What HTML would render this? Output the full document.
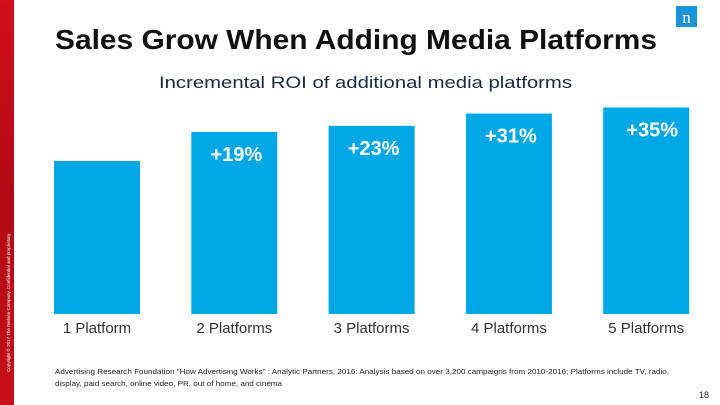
<!DOCTYPE html>
<html><head><meta charset="utf-8"><style>
html,body{margin:0;padding:0;background:#fff}
body{width:720px;height:405px;overflow:hidden;position:relative;font-family:"Liberation Sans",sans-serif}
svg text{font-family:"Liberation Sans",sans-serif}
</style></head><body>
<svg width="720" height="405" viewBox="0 0 720 405" xmlns="http://www.w3.org/2000/svg" style="position:absolute;left:0;top:0">
<defs><linearGradient id="rg" x1="0" y1="0" x2="0" y2="1"><stop offset="0" stop-color="#d0101c"/><stop offset="0.5" stop-color="#b00a14"/><stop offset="1" stop-color="#c8101a"/></linearGradient></defs>
<rect x="0" y="0" width="14" height="405" fill="url(#rg)"/>
<text transform="translate(10,372) rotate(-90)" font-size="4.5" fill="#fff">Copyright © 2017 The Nielsen Company. Confidential and proprietary.</text>
<rect x="676" y="6" width="21" height="21" fill="#1a94d6"/>
<text x="686.5" y="23" font-size="17" fill="#fff" text-anchor="middle" style="font-family:'Liberation Serif',serif">n</text>
<text x="55" y="49" font-size="27.5" font-weight="bold" fill="#111" textLength="602" lengthAdjust="spacingAndGlyphs">Sales Grow When Adding Media Platforms</text>
<text x="159" y="88" font-size="17" fill="#1a2a40" textLength="413" lengthAdjust="spacingAndGlyphs">Incremental ROI of additional   media platforms</text>
<g id="bars"></g>
<text x="55" y="374" font-size="7.5" fill="#222" textLength="614" lengthAdjust="spacingAndGlyphs">Advertising Research Foundation "How Advertising Works" : Analytic Partners, 2016: Analysis based on over 3,200 campaigns from 2010-2016; Platforms include TV, radio,</text>
<text x="55" y="386" font-size="7.5" fill="#222" textLength="227" lengthAdjust="spacingAndGlyphs">display, paid search, online video, PR, out of home, and cinema</text>
<text x="709" y="398" font-size="9" fill="#222" text-anchor="end">18</text>
</svg>
<script>
const categories = ["1 Platform","2 Platforms","3 Platforms","4 Platforms","5 Platforms"];
const values = [100,119,123,131,135];
const valueLabels = ["","+19%","+23%","+31%","+35%"];
const baseY = 314, pxPerUnit = 1.53, x0 = 54, step = 137.3, barW = 86;
const yScale = v => baseY - v * pxPerUnit;
const xScale = i => x0 + i * step;
const g = document.getElementById('bars');
const NS = "http://www.w3.org/2000/svg";
values.forEach((v, i) => {
  const r = document.createElementNS(NS, 'rect');
  
  
  r.setAttribute('x', xScale(i)); r.setAttribute('y', yScale(v));
  r.setAttribute('width', barW); r.setAttribute('height', baseY - yScale(v));
  r.setAttribute('fill', '#00a7e6');
  g.appendChild(r);
  if (valueLabels[i]) {
    const t = document.createElementNS(NS, 'text');
    
    
    t.setAttribute('x', xScale(i) + barW / 2 + (i === 4 ? 6 : 2)); t.setAttribute('y', yScale(v) + 29);
    t.setAttribute('text-anchor', 'middle'); t.setAttribute('font-size', '20'); t.setAttribute('font-weight', 'bold'); t.setAttribute('fill', '#fff');
    t.textContent = valueLabels[i];
    g.appendChild(t);
  }
  const c = document.createElementNS(NS, 'text');
  
  
  c.setAttribute('x', xScale(i) + barW / 2); c.setAttribute('y', 333);
  c.setAttribute('text-anchor', 'middle'); c.setAttribute('font-size', '15'); c.setAttribute('fill', '#333');
  c.textContent = categories[i];
  g.appendChild(c);
});
</script>
</body></html>
